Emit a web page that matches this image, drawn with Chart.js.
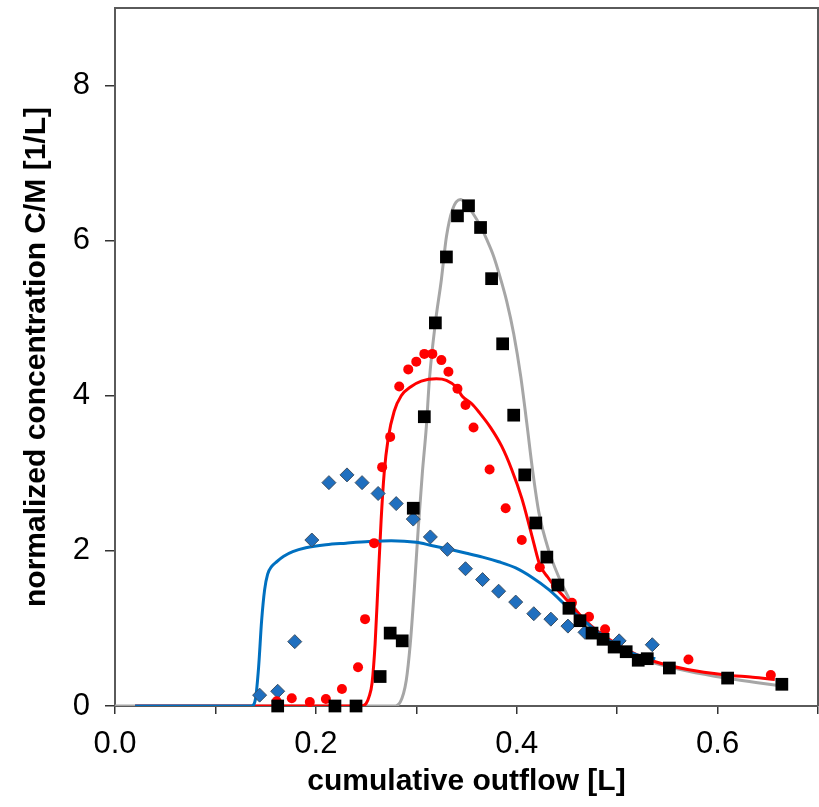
<!DOCTYPE html>
<html>
<head>
<meta charset="utf-8">
<script src="https://cdn.jsdelivr.net/npm/chart.js@4.4.1/dist/chart.umd.min.js"></script>
<style>
  body { margin: 0; background: #fff; }
  #wrap { width: 819px; height: 807px; }
</style>
</head>
<body>
<div id="wrap"><canvas id="chart"></canvas></div>
<script>
// measured points (cumulative outflow [L], C/M [1/L])
const squareX = [0.162, 0.219, 0.240, 0.264, 0.274, 0.286, 0.297, 0.308, 0.319, 0.330, 0.341, 0.352, 0.364, 0.375, 0.386, 0.397, 0.408, 0.419, 0.430, 0.441, 0.452, 0.463, 0.475, 0.486, 0.497, 0.509, 0.521, 0.530, 0.552, 0.610, 0.664];
const squareY = [0, 0, 0, 0.38, 0.94, 0.84, 2.55, 3.73, 4.94, 5.79, 6.32, 6.45, 6.17, 5.51, 4.67, 3.75, 2.98, 2.36, 1.92, 1.56, 1.26, 1.10, 0.94, 0.86, 0.76, 0.70, 0.59, 0.61, 0.49, 0.36, 0.28];

const circleX = [0.161, 0.176, 0.194, 0.210, 0.226, 0.242, 0.249, 0.258, 0.266, 0.274, 0.283, 0.292, 0.300, 0.308, 0.316, 0.325, 0.332, 0.341, 0.349, 0.357, 0.373, 0.389, 0.405, 0.423, 0.439, 0.455, 0.472, 0.488, 0.571, 0.653];
const circleY = [0.06, 0.10, 0.05, 0.09, 0.22, 0.50, 1.12, 2.10, 3.08, 3.47, 4.12, 4.34, 4.44, 4.54, 4.54, 4.46, 4.31, 4.09, 3.88, 3.59, 3.05, 2.55, 2.14, 1.79, 1.55, 1.33, 1.15, 0.99, 0.60, 0.40];

const diamondX = [0.144, 0.162, 0.179, 0.196, 0.213, 0.231, 0.246, 0.262, 0.280, 0.297, 0.314, 0.331, 0.349, 0.366, 0.382, 0.399, 0.417, 0.434, 0.451, 0.468, 0.485, 0.502, 0.535];
const diamondY = [0.14, 0.19, 0.83, 2.14, 2.88, 2.98, 2.88, 2.74, 2.61, 2.41, 2.18, 2.02, 1.77, 1.63, 1.48, 1.34, 1.19, 1.12, 1.03, 0.95, 0.89, 0.84, 0.79];

// model curves
const grayX = [0, 0.278, 0.284, 0.290, 0.294, 0.298, 0.302, 0.306, 0.310, 0.313, 0.319, 0.325, 0.330, 0.336, 0.344, 0.350, 0.356, 0.363, 0.370, 0.377, 0.383, 0.390, 0.397, 0.404, 0.410, 0.416, 0.422, 0.432, 0.442, 0.452, 0.462, 0.472, 0.485, 0.499, 0.520, 0.538, 0.570, 0.608, 0.640, 0.668];
const grayY = [0, 0, 0.05, 0.33, 0.8, 1.5, 2.3, 3.0, 3.6, 4.2, 4.94, 5.5, 6.05, 6.4, 6.53, 6.47, 6.36, 6.21, 6.02, 5.8, 5.55, 5.22, 4.8, 4.25, 3.65, 3.02, 2.5, 2.0, 1.66, 1.39, 1.18, 1.02, 0.88, 0.76, 0.63, 0.55, 0.45, 0.36, 0.30, 0.25];

const redX = [0.02, 0.245, 0.250, 0.253, 0.256, 0.259, 0.262, 0.265, 0.268, 0.272, 0.278, 0.285, 0.295, 0.305, 0.320, 0.330, 0.340, 0.346, 0.355, 0.363, 0.374, 0.385, 0.395, 0.405, 0.412, 0.417, 0.423, 0.431, 0.439, 0.447, 0.455, 0.467, 0.479, 0.492, 0.505, 0.520, 0.538, 0.570, 0.608, 0.635, 0.657];
const redY = [0, 0, 0.03, 0.12, 0.3, 0.8, 1.6, 2.4, 3.0, 3.45, 3.8, 4.0, 4.12, 4.19, 4.22, 4.2, 4.11, 3.99, 3.9, 3.78, 3.59, 3.35, 3.05, 2.68, 2.35, 2.1, 1.82, 1.66, 1.52, 1.41, 1.29, 1.12, 0.98, 0.86, 0.76, 0.66, 0.57, 0.47, 0.40, 0.37, 0.34];

const blueX = [0.02, 0.136, 0.140, 0.143, 0.146, 0.149, 0.152, 0.156, 0.161, 0.168, 0.177, 0.190, 0.210, 0.230, 0.253, 0.275, 0.300, 0.315, 0.333, 0.350, 0.366, 0.382, 0.399, 0.415, 0.432, 0.452, 0.467, 0.482, 0.495, 0.505, 0.520, 0.538];
const blueY = [0, 0, 0.1, 0.5, 1.1, 1.5, 1.7, 1.8, 1.86, 1.93, 1.99, 2.04, 2.08, 2.1, 2.12, 2.13, 2.11, 2.07, 2.02, 1.97, 1.92, 1.86, 1.78, 1.66, 1.50, 1.26, 1.10, 0.94, 0.82, 0.74, 0.66, 0.61];

// axis ticks
const xTicks = [0, 0.1, 0.2, 0.3, 0.4, 0.5, 0.6, 0.7];
const xTickLabels = ['0.0', '', '0.2', '', '0.4', '', '0.6', ''];
const yTicks = [0, 2, 4, 6, 8];
const yTickLabels = ['0', '2', '4', '6', '8'];

const pts = (xs, ys) => xs.map((x, i) => ({ x: x, y: ys[i] }));

const frame = {
  id: 'frame',
  beforeDatasetsDraw(chart) {
    const { ctx, chartArea: a } = chart;
    ctx.save();
    ctx.strokeStyle = '#5a5a5a';
    ctx.lineWidth = 2;
    ctx.beginPath();
    ctx.moveTo(a.left, a.top);
    ctx.lineTo(a.right, a.top);
    ctx.lineTo(a.right, a.bottom);
    ctx.stroke();
    ctx.restore();
  }
};

const curve = (label, xs, ys, color, order) => ({
  type: 'line',
  label: label,
  data: pts(xs, ys),
  borderColor: color,
  borderWidth: 3,
  pointRadius: 0,
  cubicInterpolationMode: 'monotone',
  fill: false,
  order: order
});

new Chart(document.getElementById('chart'), {
  type: 'scatter',
  data: {
    datasets: [
      {
        label: 'squares',
        data: pts(squareX, squareY),
        pointStyle: 'rect',
        pointRadius: 9,
        backgroundColor: '#000',
        borderColor: '#000',
        borderWidth: 0,
        clip: false,
        order: 0
      },
      {
        label: 'circles',
        data: pts(circleX, circleY),
        pointStyle: 'circle',
        pointRadius: 5,
        backgroundColor: '#ff0000',
        borderColor: '#ff0000',
        borderWidth: 0,
        clip: false,
        order: 1
      },
      {
        label: 'diamonds',
        data: pts(diamondX, diamondY),
        pointStyle: 'rectRot',
        pointRadius: 7,
        backgroundColor: '#1f6fbf',
        borderColor: '#3b4f63',
        borderWidth: 1,
        clip: false,
        order: 2
      },
      curve('blue model', blueX, blueY, '#0070c0', 3),
      curve('red model', redX, redY, '#ff0000', 4),
      curve('gray model', grayX, grayY, '#a6a6a6', 5)
    ]
  },
  options: {
    responsive: true,
    maintainAspectRatio: false,
    animation: false,
    layout: { autoPadding: false, padding: { top: 8, right: 1, left: 0, bottom: 0 } },
    plugins: {
      legend: { display: false },
      tooltip: { enabled: false }
    },
    scales: {
      x: {
        type: 'linear',
        min: 0,
        max: 0.7,
        afterBuildTicks: axis => { axis.ticks = xTicks.map(v => ({ value: v })); },
        afterFit: axis => {
          axis.height = 101;
          axis.paddingLeft = 0;
          axis.paddingRight = 0;
        },
        grid: { drawOnChartArea: false, drawTicks: true, tickLength: 8, color: '#333', lineWidth: 1.5 },
        border: { display: true, color: '#5a5a5a', width: 2 },
        ticks: {
          autoSkip: false,
          maxRotation: 0,
          padding: 12,
          color: '#000',
          font: { family: 'Liberation Sans', size: 31 },
          callback: (v, i) => xTickLabels[i]
        },
        title: {
          display: true,
          text: 'cumulative outflow [L]',
          color: '#000',
          font: { family: 'Liberation Sans', size: 30, weight: 'bold' },
          padding: { top: 0, bottom: 7 }
        }
      },
      y: {
        type: 'linear',
        min: 0,
        max: 9,
        afterBuildTicks: axis => { axis.ticks = yTicks.map(v => ({ value: v })); },
        afterFit: axis => {
          axis.width = 115;
          axis.paddingTop = 0;
          axis.paddingBottom = 0;
        },
        grid: { drawOnChartArea: false, drawTicks: true, tickLength: 10, color: '#333', lineWidth: 1.5 },
        border: { display: true, color: '#5a5a5a', width: 2 },
        ticks: {
          padding: 15,
          color: '#000',
          font: { family: 'Liberation Sans', size: 31 },
          callback: (v, i) => yTickLabels[i]
        },
        title: {
          display: true,
          text: 'normalized concentration C/M [1/L]',
          color: '#000',
          font: { family: 'Liberation Sans', size: 30, weight: 'bold' },
          padding: { top: 19, bottom: 0 }
        }
      }
    }
  },
  plugins: [frame]
});
</script>
</body>
</html>
